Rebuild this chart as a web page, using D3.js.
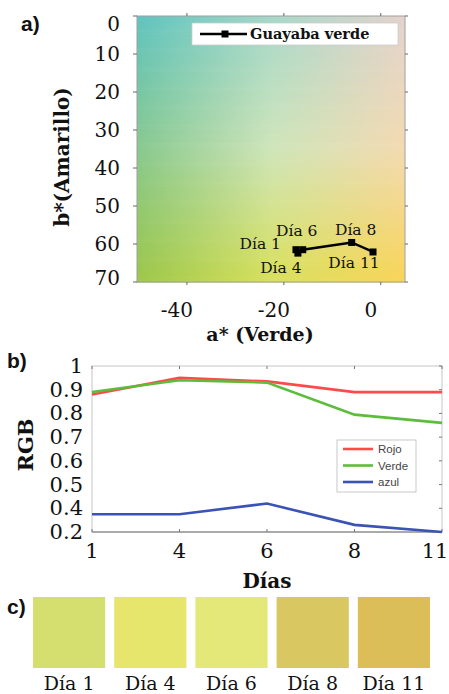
<!DOCTYPE html>
<html>
<head>
<meta charset="utf-8">
<script src="https://cdn.jsdelivr.net/npm/d3@7"></script>
<style>
    body { margin: 0; background: #fff; }
    svg { display: block; }
    .serif { font-family: "DejaVu Serif", serif; fill: #111; }
    .sans { font-family: "Liberation Sans", Arial, sans-serif; }
</style>
</head>
<body>
<svg id="chart" width="449" height="694"></svg>
<script>
"use strict";

//
/* Data: */
//

// a) CIELab coordinates of the green guava per day
var labDays = ["Día 1", "Día 4", "Día 6", "Día 8", "Día 11"];
var labA = [-17.5, -17.1, -16.1, -6.0, -1.6];
var labB = [61.5, 62.4, 61.5, 59.6, 62.1];
var labTicksX = [-40, -20, 0];
var labTicksY = [0, 10, 20, 30, 40, 50, 60, 70];

// b) normalised RGB per day
var rgbDays = ["1", "4", "6", "8", "11"];
var rojo = [0.88, 0.95, 0.935, 0.89, 0.89];
var verde = [0.89, 0.94, 0.93, 0.795, 0.76];
var azul = [0.375, 0.375, 0.42, 0.33, 0.30];
var rgbTickValues = [0.3, 0.4, 0.5, 0.6, 0.7, 0.8, 0.9, 1];
var rgbTickLabels = ["0.2", "0.4", "0.5", "0.6", "0.7", "0.8", "0.9", "1"];

// c) colour of the sample per day
var sampleDays = ["Día 1", "Día 4", "Día 6", "Día 8", "Día 11"];
var sampleColours = ["#d5df6f", "#e6e66c", "#e4e878", "#d9c762", "#dcbe58"];


var svg = d3.select("#chart");
var defs = svg.append("defs");

//
/* Panel a: */
//

var xA = d3.scaleLinear().domain([-50.3, 5]).range([137, 405]);
var yA = d3.scaleLinear().domain([0, 70]).range([16, 282]);

// background colour field (top row, middle row, bottom row)
var bgGrid = [
    ["#5fc4bf", "#a6d8c9", "#e4d3cd"],
    ["#88c88e", "#cfe5ba", "#f3dab0"],
    ["#9cc748", "#d8e05a", "#f9d457"]
];
var rowInterp = bgGrid.map(function (row) { return d3.piecewise(d3.interpolateRgb, row); });
function bgColour(u, v) {
    var col = rowInterp.map(function (f) { return f(u); });
    return d3.piecewise(d3.interpolateRgb, col)(v);
}

var bg = svg.append("g").attr("class", "background");
var step = 0.5;
d3.range(0, 70, step).forEach(function (b, i) {
    var v = (b + step / 2) / 70;
    var grad = defs.append("linearGradient")
        .attr("id", "row" + i)
        .attr("x1", "0").attr("x2", "1").attr("y1", "0").attr("y2", "0");
    d3.range(0, 11).forEach(function (k) {
        grad.append("stop")
            .attr("offset", k / 10)
            .attr("stop-color", bgColour(k / 10, v));
    });
    bg.append("rect")
        .attr("x", xA.range()[0])
        .attr("y", yA(b))
        .attr("width", xA.range()[1] - xA.range()[0])
        .attr("height", yA(step) - yA(0) + 0.6)
        .attr("fill", "url(#row" + i + ")");
});

// frame and ticks
svg.append("rect")
    .attr("x", 137).attr("y", 16).attr("width", 268).attr("height", 266)
    .attr("fill", "none").attr("stroke", "#a0a0a0").attr("stroke-width", 1);

var tickA = svg.append("g").attr("stroke", "#666").attr("stroke-width", 1);
labTicksY.forEach(function (t) {
    tickA.append("line").attr("x1", 133).attr("x2", 137).attr("y1", yA(t)).attr("y2", yA(t));
    tickA.append("line").attr("x1", 405).attr("x2", 408).attr("y1", yA(t)).attr("y2", yA(t));
});
labTicksX.forEach(function (t) {
    tickA.append("line").attr("x1", xA(t)).attr("x2", xA(t)).attr("y1", 13).attr("y2", 16);
    tickA.append("line").attr("x1", xA(t)).attr("x2", xA(t)).attr("y1", 282).attr("y2", 285);
});

// tick labels
svg.append("g").selectAll("text")
    .data(labTicksY)
    .enter()
    .append("text")
    .attr("class", "serif")
    .attr("x", 120)
    .attr("y", function (d) { return Math.min(Math.max(yA(d), 24), 278); })
    .attr("text-anchor", "end")
    .attr("dominant-baseline", "central")
    .style("font-size", "20px")
    .text(function (d) { return d; });

svg.append("g").selectAll("text")
    .data(labTicksX)
    .enter()
    .append("text")
    .attr("class", "serif")
    .attr("x", function (d) { return xA(d) - 10; })
    .attr("y", 317)
    .attr("text-anchor", "middle")
    .style("font-size", "20px")
    .text(function (d) { return d < 0 ? "-" + Math.abs(d) : d; });

// axis titles
svg.append("text")
    .attr("class", "serif")
    .attr("x", 260).attr("y", 341)
    .attr("text-anchor", "middle")
    .style("font-size", "19px").style("font-weight", "bold")
    .text("a* (Verde)");

svg.append("text")
    .attr("class", "serif")
    .attr("transform", "translate(62,157) rotate(-90)")
    .attr("text-anchor", "middle")
    .attr("dominant-baseline", "central")
    .style("font-size", "20px").style("font-weight", "bold")
    .text("b*(Amarillo)");

// guava track
var labLine = d3.line()
    .x(function (d, i) { return xA(labA[i]); })
    .y(function (d, i) { return yA(labB[i]); });

svg.append("path")
    .datum(labDays)
    .attr("d", labLine)
    .attr("fill", "none")
    .attr("stroke", "#000")
    .attr("stroke-width", 2.5);

svg.append("g").selectAll("rect")
    .data(labDays)
    .enter()
    .append("rect")
    .attr("x", function (d, i) { return xA(labA[i]) - 3.5; })
    .attr("y", function (d, i) { return yA(labB[i]) - 3.5; })
    .attr("width", 7).attr("height", 7)
    .attr("fill", "#000");

// label offsets from each point (anchor, dx, dy)
var labLabelPlace = [["end", -15, -1], ["middle", -17, 20], ["middle", -6, -14], ["middle", 4, -7], ["middle", -19, 16]];
svg.append("g").selectAll("text")
    .data(labDays)
    .enter()
    .append("text")
    .attr("class", "serif")
    .attr("x", function (d, i) { return xA(labA[i]) + labLabelPlace[i][1]; })
    .attr("y", function (d, i) { return yA(labB[i]) + labLabelPlace[i][2]; })
    .attr("text-anchor", function (d, i) { return labLabelPlace[i][0]; })
    .style("font-size", "15.5px")
    .text(function (d) { return d; });

// legend
var legA = svg.append("g");
legA.append("rect")
    .attr("x", 192).attr("y", 23).attr("width", 206).attr("height", 22)
    .attr("fill", "#fff").attr("stroke", "#ccc").attr("stroke-width", 0.8);
legA.append("line")
    .attr("x1", 200).attr("x2", 247).attr("y1", 34).attr("y2", 34)
    .attr("stroke", "#000").attr("stroke-width", 2.5);
legA.append("rect")
    .attr("x", 221.5).attr("y", 30.5).attr("width", 7).attr("height", 7)
    .attr("fill", "#000");
legA.append("text")
    .attr("class", "serif")
    .attr("x", 250).attr("y", 39)
    .style("font-size", "14.5px").style("font-weight", "bold")
    .text("Guayaba verde");

//
/* Panel b: */
//

var xB = d3.scalePoint().domain(rgbDays).range([92, 442]);
var yB = d3.scaleLinear().domain([0.3, 1]).range([532, 366]);

svg.append("rect")
    .attr("x", 92).attr("y", 366).attr("width", 350).attr("height", 166)
    .attr("fill", "none").attr("stroke", "#cfcfcf").attr("stroke-width", 1.2);
svg.append("line")
    .attr("x1", 92).attr("x2", 442).attr("y1", 532).attr("y2", 532)
    .attr("stroke", "#aaa").attr("stroke-width", 2);

var tickB = svg.append("g").attr("stroke", "#777").attr("stroke-width", 1);
rgbDays.forEach(function (d) {
    tickB.append("line").attr("x1", xB(d)).attr("x2", xB(d)).attr("y1", 366).attr("y2", 369);
    tickB.append("line").attr("x1", xB(d)).attr("x2", xB(d)).attr("y1", 529).attr("y2", 532);
});
rgbTickValues.forEach(function (t) {
    tickB.append("line").attr("x1", 439).attr("x2", 442).attr("y1", yB(t)).attr("y2", yB(t));
});

var series = [
    { name: "Rojo", values: rojo, colour: "#ff4a4a" },
    { name: "Verde", values: verde, colour: "#5cbd3c" },
    { name: "azul", values: azul, colour: "#3a53b4" }
];

var rgbLine = d3.line()
    .x(function (d, i) { return xB(rgbDays[i]); })
    .y(function (d) { return yB(d); });

svg.append("g").selectAll("path")
    .data(series)
    .enter()
    .append("path")
    .attr("d", function (d) { return rgbLine(d.values); })
    .attr("fill", "none")
    .attr("stroke", function (d) { return d.colour; })
    .attr("stroke-width", 2.6);

svg.append("g").selectAll("text")
    .data(rgbTickValues)
    .enter()
    .append("text")
    .attr("class", "serif")
    .attr("x", 83)
    .attr("y", function (d) { return yB(d); })
    .attr("text-anchor", "end")
    .attr("dominant-baseline", "central")
    .style("font-size", "21px")
    .text(function (d, i) { return rgbTickLabels[i]; });

svg.append("g").selectAll("text")
    .data(rgbDays)
    .enter()
    .append("text")
    .attr("class", "serif")
    .attr("x", function (d) { return Math.min(xB(d), 435); })
    .attr("y", 558)
    .attr("text-anchor", "middle")
    .style("font-size", "21px")
    .text(function (d) { return d; });

svg.append("text")
    .attr("class", "serif")
    .attr("x", 267).attr("y", 588)
    .attr("text-anchor", "middle")
    .style("font-size", "20px").style("font-weight", "bold")
    .text("Días");

svg.append("text")
    .attr("class", "serif")
    .attr("transform", "translate(25,445) rotate(-90)")
    .attr("text-anchor", "middle")
    .attr("dominant-baseline", "central")
    .style("font-size", "21px").style("font-weight", "bold")
    .text("RGB");

// legend
var legB = svg.append("g");
legB.append("rect")
    .attr("x", 337).attr("y", 440).attr("width", 79).attr("height", 52)
    .attr("fill", "#fff").attr("stroke", "#bbb").attr("stroke-width", 0.8);
series.forEach(function (s, i) {
    var ly = 449 + i * 16.5;
    legB.append("line")
        .attr("x1", 343).attr("x2", 373).attr("y1", ly).attr("y2", ly)
        .attr("stroke", s.colour).attr("stroke-width", 2.6);
    legB.append("text")
        .attr("class", "sans")
        .attr("x", 378).attr("y", ly)
        .attr("dominant-baseline", "central")
        .style("font-size", "11.5px").style("fill", "#444")
        .text(s.name);
});

//
/* Panel c: */
//

var xC = d3.scaleBand().domain(sampleDays).range([33, 430]).paddingInner(0.111);

svg.append("g").selectAll("rect")
    .data(sampleDays)
    .enter()
    .append("rect")
    .attr("x", function (d) { return xC(d); })
    .attr("y", 597)
    .attr("width", xC.bandwidth())
    .attr("height", 71)
    .attr("fill", function (d, i) { return sampleColours[i]; });

svg.append("g").selectAll("text")
    .data(sampleDays)
    .enter()
    .append("text")
    .attr("class", "serif")
    .attr("x", function (d) { return xC(d) + xC.bandwidth() / 2; })
    .attr("y", 690)
    .attr("text-anchor", "middle")
    .style("font-size", "19px")
    .text(function (d) { return d; });

// panel letters
var letters = [["a)", 21, 31], ["b)", 7, 368], ["c)", 7, 614]];
svg.append("g").selectAll("text")
    .data(letters)
    .enter()
    .append("text")
    .attr("class", "sans")
    .attr("x", function (d) { return d[1]; })
    .attr("y", function (d) { return d[2]; })
    .style("font-size", "21px").style("font-weight", "bold").style("fill", "#111")
    .text(function (d) { return d[0]; });
</script>
</body>
</html>
